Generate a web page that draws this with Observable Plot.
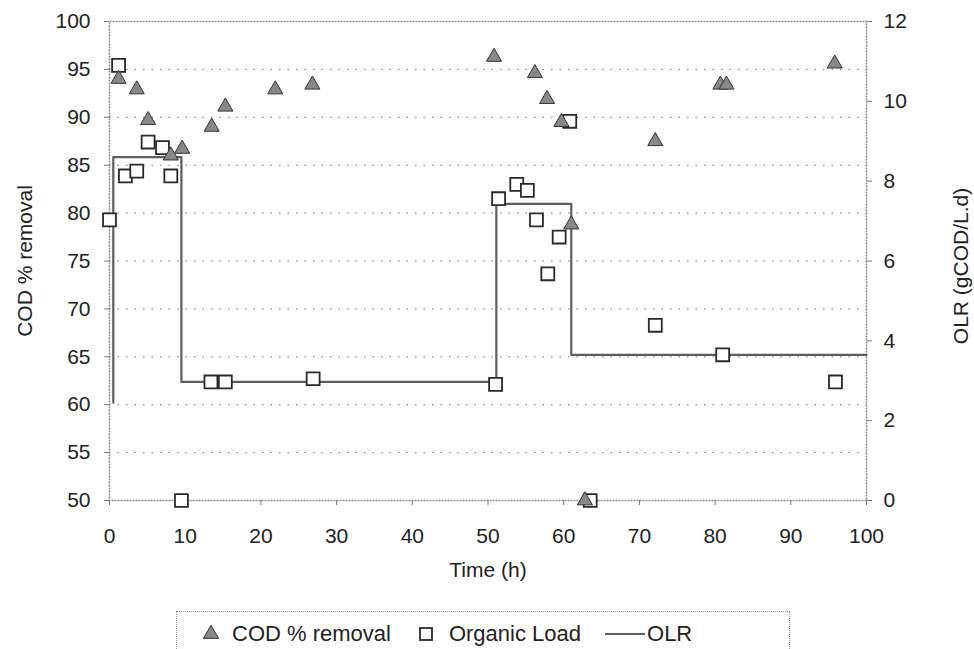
<!DOCTYPE html>
<html>
<head>
<meta charset="utf-8">
<script src="https://cdn.jsdelivr.net/npm/d3@7"></script>
<script src="https://cdn.jsdelivr.net/npm/@observablehq/plot@0.6"></script>
<style>
  body { margin: 0; background: #fff; font-family: "Liberation Sans", Arial, sans-serif; }
  #wrap { position: relative; width: 974px; height: 649px; overflow: hidden; background: #fff; }
  #legend { position: absolute; left: 176px; top: 611px; width: 614px; height: 46px;
            border: 1px dotted #999; box-sizing: border-box; display: flex; align-items: center;
            justify-content: flex-start; padding-left: 23px; font-size: 22px; color: #222; }
  #legend .item { display: flex; align-items: center; }
  #legend svg { display: block; }
</style>
</head>
<body>
<div id="wrap">
  <div id="chart"></div>
  <div id="legend"></div>
</div>
<script>
// ---- data ----
const codTime    = [1.2, 3.6, 5.1, 8.1, 9.6, 13.5, 15.3, 21.9, 26.8, 50.8, 56.2, 57.8, 59.7, 61.0, 62.8, 72.1, 80.7, 81.5, 95.8];
const codRemoval = [94.0, 92.9, 89.7, 86.0, 86.7, 89.0, 91.1, 92.9, 93.4, 96.3, 94.6, 91.9, 89.5, 78.8, 50.0, 87.5, 93.4, 93.4, 95.6];

const loadTime  = [0, 1.2, 2.1, 3.6, 5.1, 7.0, 8.1, 9.5, 13.4, 15.3, 26.9, 51.0, 51.4, 53.8, 55.2, 56.4, 57.9, 59.4, 60.8, 63.5, 72.1, 81.0, 95.9];
const loadValue = [7.03, 10.9, 8.13, 8.25, 8.98, 8.84, 8.13, 0, 2.97, 2.97, 3.05, 2.91, 7.56, 7.92, 7.77, 7.03, 5.68, 6.6, 9.5, 0, 4.39, 3.65, 2.97];

const olrTime  = [0.5, 0.5, 9.5, 9.5, 51.1, 51.1, 61.0, 61.0, 100];
const olrValue = [2.45, 8.6, 8.6, 2.97, 2.97, 7.43, 7.43, 3.65, 3.65];

const xTicks     = [0, 10, 20, 30, 40, 50, 60, 70, 80, 90, 100];
const leftTicks  = [50, 55, 60, 65, 70, 75, 80, 85, 90, 95, 100];
const rightTicks = [0, 2, 4, 6, 8, 10, 12];

const xTitle = "Time (h)";
const leftTitle = "COD % removal";
const rightTitle = "OLR (gCOD/L.d)";
const legendLabels = ["COD % removal", "Organic Load", "OLR"];

// ---- build ----
const rightMax = 12;
const toLeft = v => 50 + v * (50 / rightMax);   // map right-axis values onto the shared y scale

const cod  = codTime.map((t, i) => ({t, v: codRemoval[i]}));
const load = loadTime.map((t, i) => ({t, v: loadValue[i]}));
const olr  = olrTime.map((t, i) => ({t, v: olrValue[i]}));

const font = "Liberation Sans, Arial, sans-serif";
const FS = 21;

const chart = Plot.plot({
  width: 974,
  height: 606,
  marginTop: 21,
  marginBottom: 106,
  marginLeft: 109,
  marginRight: 108,
  x: {domain: [0, 100]},
  y: {domain: [50, 100]},
  style: {fontFamily: font, fontSize: FS + "px", color: "#222", background: "#fff", overflow: "visible"},
  marks: [
    Plot.gridY(leftTicks.slice(1, -1), {stroke: "#666", strokeOpacity: 0.9, strokeDasharray: "1.5,7"}),
    Plot.frame({stroke: "#8a8a8a", strokeWidth: 1.6, strokeDasharray: "2,1"}),
    Plot.axisX(xTicks, {anchor: "bottom", tickSize: 5, tickPadding: 23, label: null, fontSize: FS, stroke: "#777"}),
    Plot.axisY(leftTicks, {anchor: "left", tickSize: 5, tickPadding: 14, label: null, fontSize: FS, stroke: "#777"}),
    Plot.axisY(rightTicks.map(toLeft), {anchor: "right", tickSize: 5, tickPadding: 12, label: null, fontSize: FS,
      stroke: "#777", tickFormat: v => String(Math.round((v - 50) * rightMax / 50))}),
    Plot.line(olr, {x: "t", y: d => toLeft(d.v), stroke: "#5e5e5e", strokeWidth: 2.2}),
    Plot.dot(load, {x: "t", y: d => toLeft(d.v), symbol: "square", r: 7.3, fill: "#fff", stroke: "#2a2a2a", strokeWidth: 1.8}),
    Plot.dot(cod, {x: "t", y: "v", symbol: "triangle", r: 5.6, fill: "#888", stroke: "#333", strokeWidth: 1}),
    Plot.text([xTitle], {frameAnchor: "bottom", dy: 70, text: d => d, fontSize: FS, fill: "#222", textAnchor: "middle", lineAnchor: "middle"}),
    Plot.text([leftTitle], {frameAnchor: "left", dx: -84, rotate: -90, text: d => d, fontSize: FS, fill: "#222", textAnchor: "middle", lineAnchor: "middle"}),
    Plot.text([rightTitle], {frameAnchor: "right", dx: 95, dy: 5, rotate: -90, text: d => d, fontSize: FS, fill: "#222", textAnchor: "middle", lineAnchor: "middle"})
  ]
});
document.getElementById("chart").appendChild(chart);

// ---- legend ----
const legend = document.getElementById("legend");
const icons = [
  `<svg width="22" height="20" viewBox="-11 -10 22 20"><path d="${d3.symbol(d3.symbolTriangle, Math.PI*5.6*5.6)()}" fill="#888" stroke="#333"/></svg>`,
  `<svg width="22" height="20" viewBox="-11 -10 22 20"><rect x="-6" y="-6" width="12" height="12" fill="#fff" stroke="#2a2a2a" stroke-width="1.8"/></svg>`,
  `<svg width="40" height="20"><line x1="0" x2="40" y1="10" y2="10" stroke="#5e5e5e" stroke-width="2.2"/></svg>`
];
const gaps = ["0 10px 0 0", "0 12px 0 0", "0 2px 0 0"];
legendLabels.forEach((lab, i) => {
  const it = document.createElement("div");
  it.className = "item";
  it.style.margin = i < 2 ? "0 24px 0 0" : "0";
  it.innerHTML = `<span style="margin:${gaps[i]}">${icons[i]}</span><span>${lab}</span>`;
  legend.appendChild(it);
});
</script>
</body>
</html>
